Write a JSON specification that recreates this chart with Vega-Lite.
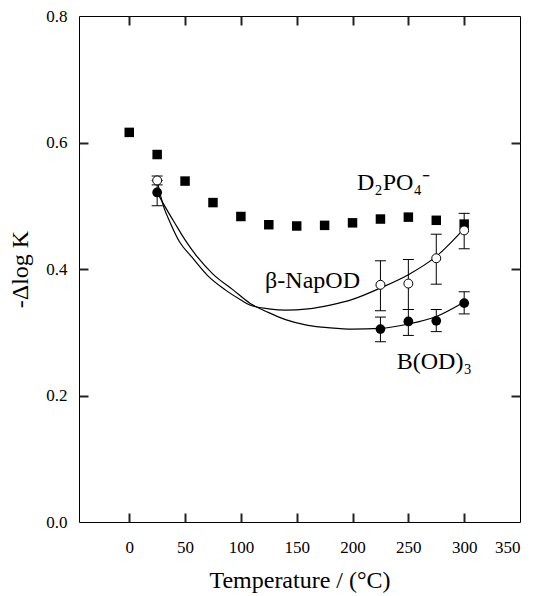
{
  "$schema": "https://vega.github.io/schema/vega-lite/v6.json",
  "width": 441,
  "height": 506,
  "autosize": {"type": "none"},
  "padding": {"left": 79, "top": 16, "right": 19, "bottom": 74},
  "background": "white",
  "config": {
    "view": {"stroke": "black", "strokeWidth": 1},
    "font": "Liberation Serif",
    "axis": {
      "grid": false, "domain": false,
      "labelFont": "Liberation Serif", "labelFontSize": 17, "labelColor": "black",
      "titleFont": "Liberation Serif", "titleFontSize": 24, "titleFontWeight": "normal", "titleColor": "black"
    }
  },
  "datasets": {
    "pts": [
      {"s": "D2PO4", "T": 0, "v": 0.616},
      {"s": "D2PO4", "T": 25, "v": 0.581},
      {"s": "D2PO4", "T": 50, "v": 0.539},
      {"s": "D2PO4", "T": 75, "v": 0.505},
      {"s": "D2PO4", "T": 100, "v": 0.483},
      {"s": "D2PO4", "T": 125, "v": 0.470},
      {"s": "D2PO4", "T": 150, "v": 0.468},
      {"s": "D2PO4", "T": 175, "v": 0.469},
      {"s": "D2PO4", "T": 200, "v": 0.473},
      {"s": "D2PO4", "T": 225, "v": 0.479},
      {"s": "D2PO4", "T": 250, "v": 0.482},
      {"s": "D2PO4", "T": 275, "v": 0.477},
      {"s": "D2PO4", "T": 300, "v": 0.471},
      {"s": "NapOD", "T": 25, "v": 0.540, "lo": 0.533, "hi": 0.547},
      {"s": "NapOD", "T": 225, "v": 0.375, "lo": 0.334, "hi": 0.413},
      {"s": "NapOD", "T": 250, "v": 0.377, "lo": 0.336, "hi": 0.415},
      {"s": "NapOD", "T": 275, "v": 0.417, "lo": 0.376, "hi": 0.455},
      {"s": "NapOD", "T": 300, "v": 0.461, "lo": 0.432, "hi": 0.488},
      {"s": "BOD3", "T": 25, "v": 0.521, "lo": 0.500, "hi": 0.540},
      {"s": "BOD3", "T": 225, "v": 0.305, "lo": 0.285, "hi": 0.324},
      {"s": "BOD3", "T": 250, "v": 0.317, "lo": 0.295, "hi": 0.336},
      {"s": "BOD3", "T": 275, "v": 0.318, "lo": 0.301, "hi": 0.336},
      {"s": "BOD3", "T": 300, "v": 0.346, "lo": 0.329, "hi": 0.364}
    ],
    "curves": [
      {"s": "NapOD", "T": 25, "v": 0.540},
      {"s": "NapOD", "T": 30, "v": 0.503},
      {"s": "NapOD", "T": 37, "v": 0.472},
      {"s": "NapOD", "T": 45, "v": 0.443},
      {"s": "NapOD", "T": 56, "v": 0.419},
      {"s": "NapOD", "T": 70, "v": 0.390},
      {"s": "NapOD", "T": 86, "v": 0.367},
      {"s": "NapOD", "T": 100, "v": 0.351},
      {"s": "NapOD", "T": 108, "v": 0.343},
      {"s": "NapOD", "T": 125, "v": 0.337},
      {"s": "NapOD", "T": 140, "v": 0.335},
      {"s": "NapOD", "T": 160, "v": 0.337},
      {"s": "NapOD", "T": 180, "v": 0.343},
      {"s": "NapOD", "T": 200, "v": 0.352},
      {"s": "NapOD", "T": 225, "v": 0.370},
      {"s": "NapOD", "T": 250, "v": 0.391},
      {"s": "NapOD", "T": 275, "v": 0.420},
      {"s": "NapOD", "T": 300, "v": 0.464},
      {"s": "BOD3", "T": 25, "v": 0.521},
      {"s": "BOD3", "T": 30, "v": 0.505},
      {"s": "BOD3", "T": 41, "v": 0.472},
      {"s": "BOD3", "T": 50, "v": 0.446},
      {"s": "BOD3", "T": 61, "v": 0.419},
      {"s": "BOD3", "T": 75, "v": 0.392},
      {"s": "BOD3", "T": 93, "v": 0.367},
      {"s": "BOD3", "T": 108, "v": 0.346},
      {"s": "BOD3", "T": 125, "v": 0.331},
      {"s": "BOD3", "T": 140, "v": 0.320},
      {"s": "BOD3", "T": 160, "v": 0.311},
      {"s": "BOD3", "T": 180, "v": 0.307},
      {"s": "BOD3", "T": 200, "v": 0.305},
      {"s": "BOD3", "T": 225, "v": 0.306},
      {"s": "BOD3", "T": 250, "v": 0.313},
      {"s": "BOD3", "T": 275, "v": 0.325},
      {"s": "BOD3", "T": 300, "v": 0.348}
    ],
    "labels": [
      {"T": 204, "v": 0.525, "t": "D₂PO₄⁻"},
      {"T": 121.7, "v": 0.3695, "t": "β-NapOD"},
      {"T": 239.6, "v": 0.242, "t": "B(OD)₃"}
    ]
  },
  "resolve": {"axis": {"x": "independent", "y": "independent"}},
  "layer": [
    {
      "data": {"name": "pts"},
      "transform": [{"filter": "datum.s === 'D2PO4'"}],
      "mark": {"type": "square", "size": 90, "fill": "black", "opacity": 1, "strokeWidth": 0},
      "encoding": {
        "x": {"field": "T", "type": "quantitative", "scale": {"domain": [-45, 350], "nice": false, "zero": false},
          "axis": {"orient": "bottom", "values": [0, 50, 100, 150, 200, 250, 300, 350], "ticks": false, "labelBaseline": "alphabetic", "labelPadding": 30,
            "labelFont": "Liberation Serif", "labelFontSize": 17,
            "title": "Temperature / (°C)", "titleX": 220.5, "titleY": 65, "titleBaseline": "alphabetic"}},
        "y": {"field": "v", "type": "quantitative", "scale": {"domain": [0, 0.8], "nice": false},
          "axis": {"orient": "left", "values": [0, 0.2, 0.4, 0.6, 0.8], "format": ".1f", "ticks": false, "labelPadding": 12,
            "labelFont": "Liberation Serif", "labelFontSize": 17,
            "title": "-Δlog K", "titleX": -59, "titleY": 253, "titleBaseline": "middle", "titleAngle": -90}}
      }
    },
    {
      "data": {"name": "pts"},
      "transform": [{"filter": "datum.s === 'D2PO4'"}],
      "mark": {"type": "square", "size": 0, "opacity": 0},
      "encoding": {
        "x": {"field": "T", "type": "quantitative",
          "axis": {"orient": "top", "offset": -506, "values": [0, 50, 100, 150, 200, 250, 300], "ticks": true, "tickSize": 9, "tickWidth": 2, "tickColor": "#222222", "tickOpacity": 1, "labels": false, "title": null}},
        "y": {"field": "v", "type": "quantitative",
          "axis": {"orient": "right", "offset": -441, "values": [0.2, 0.4, 0.6], "ticks": true, "tickSize": 9, "tickWidth": 2, "tickColor": "#222222", "tickOpacity": 1, "labels": false, "title": null}}
      }
    },
    {
      "data": {"name": "pts"},
      "transform": [{"filter": "datum.s === 'D2PO4'"}],
      "mark": {"type": "square", "size": 0, "opacity": 0},
      "encoding": {
        "x": {"field": "T", "type": "quantitative",
          "axis": {"orient": "bottom", "offset": -506, "values": [0, 50, 100, 150, 200, 250, 300], "ticks": true, "tickSize": 9, "tickWidth": 2, "tickColor": "#222222", "tickOpacity": 1, "labels": false, "title": null}},
        "y": {"field": "v", "type": "quantitative",
          "axis": {"orient": "left", "offset": -441, "values": [0.2, 0.4, 0.6], "ticks": true, "tickSize": 9, "tickWidth": 2, "tickColor": "#222222", "tickOpacity": 1, "labels": false, "title": null}}
      }
    },
    {
      "data": {"name": "pts"},
      "transform": [{"filter": "datum.s !== 'D2PO4'"}],
      "mark": {"type": "rule", "color": "black", "strokeWidth": 1},
      "encoding": {
        "x": {"field": "T", "type": "quantitative", "axis": null},
        "y": {"field": "lo", "type": "quantitative", "axis": null},
        "y2": {"field": "hi"}
      }
    },
    {
      "data": {"name": "pts"},
      "transform": [{"filter": "datum.s !== 'D2PO4'"}, {"fold": ["lo", "hi"], "as": ["k", "ev"]}],
      "mark": {"type": "tick", "orient": "horizontal", "size": 11, "thickness": 1, "color": "black", "opacity": 1},
      "encoding": {
        "x": {"field": "T", "type": "quantitative", "axis": null},
        "y": {"field": "ev", "type": "quantitative", "axis": null}
      }
    },
    {
      "data": {"name": "curves"},
      "mark": {"type": "line", "color": "black", "strokeWidth": 1.2, "interpolate": "monotone"},
      "encoding": {
        "x": {"field": "T", "type": "quantitative", "axis": null},
        "y": {"field": "v", "type": "quantitative", "axis": null},
        "detail": {"field": "s"}
      }
    },
    {
      "data": {"name": "pts"},
      "transform": [{"filter": "datum.s === 'BOD3'"}],
      "mark": {"type": "circle", "size": 95, "fill": "black", "opacity": 1},
      "encoding": {
        "x": {"field": "T", "type": "quantitative", "axis": null},
        "y": {"field": "v", "type": "quantitative", "axis": null}
      }
    },
    {
      "data": {"name": "pts"},
      "transform": [{"filter": "datum.s === 'NapOD'"}],
      "mark": {"type": "point", "shape": "circle", "size": 80, "fill": "white", "filled": true, "stroke": "black", "strokeWidth": 1, "opacity": 1},
      "encoding": {
        "x": {"field": "T", "type": "quantitative", "axis": null},
        "y": {"field": "v", "type": "quantitative", "axis": null}
      }
    },
    {
      "data": {"name": "labels"},
      "mark": {"type": "text", "font": "Liberation Serif", "fontSize": 24, "align": "left", "baseline": "alphabetic", "color": "black"},
      "encoding": {
        "x": {"field": "T", "type": "quantitative", "axis": null},
        "y": {"field": "v", "type": "quantitative", "axis": null},
        "text": {"field": "t"}
      }
    }
  ]
}
